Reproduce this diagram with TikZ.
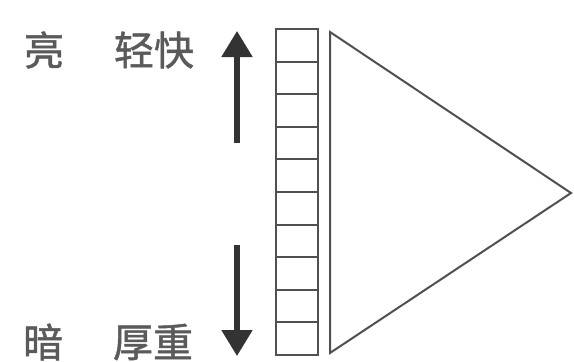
\documentclass[tikz,border=0pt]{standalone}
\usepackage{fontspec}
\newfontfamily\cjk[FakeBold=1.2]{Noto Sans CJK SC}
\usepackage{xcolor}
\usetikzlibrary{arrows.meta, positioning}

\definecolor{inkgray}{HTML}{505050}
\definecolor{textgray}{HTML}{5A5A5A}

\begin{document}
\begin{tikzpicture}[x=0.5pt, y=0.5pt,
  cell/.style={draw=inkgray, line width=1pt},
  bigarrow/.style={-{Triangle[width=15pt, length=13pt]}, line width=2.6pt, draw=black!80},
  label/.style={text=textgray, font=\cjk\fontsize{20pt}{24pt}\selectfont, inner sep=0pt}
]
  \useasboundingbox (0,0) rectangle (574,361);

  % column of ten cells
  \foreach \i in {0,...,9} {
    \draw[cell] (276, 6+32.6*\i) rectangle (318, 6+32.6*\i+32.6);
  }

  % triangle
  \draw[cell, line join=miter] (330,329) -- (330,8) -- (571,168) -- cycle;

  % arrows
  \coordinate (upfrom) at (237,218);
  \coordinate (upto)   at (237,330);
  \coordinate (dnfrom) at (237,116);
  \coordinate (dnto)   at (237,5);
  \draw[bigarrow] (upfrom) -- (upto);
  \draw[bigarrow] (dnfrom) -- (dnto);

  % labels
  \node[label] (liang)  at (44,311)  {亮};
  \node[label] (qing)   at (154,311) {轻快};
  \node[label] (an)     at (43,19)   {暗};
  \node[label] (hou)    at (153,19)  {厚重};
\end{tikzpicture}
\end{document}
